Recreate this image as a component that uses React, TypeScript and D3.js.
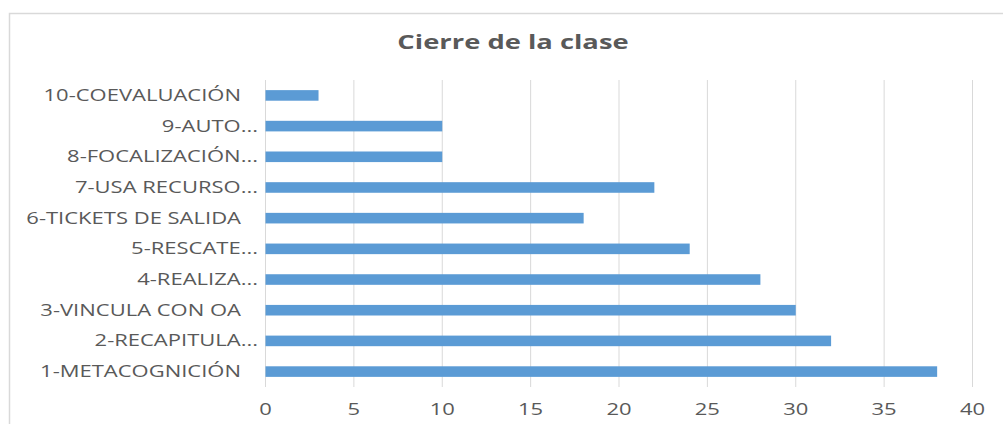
import React from 'react';
import * as d3 from 'd3';

const categories = [
  '10-COEVALUACIÓN',
  '9-AUTO...',
  '8-FOCALIZACIÓN...',
  '7-USA RECURSO...',
  '6-TICKETS DE SALIDA',
  '5-RESCATE...',
  '4-REALIZA...',
  '3-VINCULA CON OA',
  '2-RECAPITULA...',
  '1-METACOGNICIÓN',
];
const values = [3, 10, 10, 22, 18, 24, 28, 30, 32, 38];
const xTicks = [0, 5, 10, 15, 20, 25, 30, 35, 40];

const width = 1003;
const height = 424;
const plotTop = 80;
const plotBottom = 387;
const plotLeft = 265.5;
const plotRight = 972.5;
const font = "'Open Sans', sans-serif";
// the reference is stretched sideways, so text is widened to match
const sx = 1.42;

const App = () => {
  const x = d3.scaleLinear().domain([0, 40]).range([plotLeft, plotRight]);
  const y = d3.scaleBand().domain(categories).range([plotTop, plotBottom]).paddingInner(0.655).paddingOuter(0.33);

  // truncated labels sit closer to the axis than the full ones
  const labelX = (c: string) => (c.endsWith('...') ? 258 : 241);

  return (
    <svg width={width} height={height} style={{ position: 'absolute', left: 0, top: 0 }}>
      <rect x={0} y={0} width={width} height={height} fill="#fff" />
      <rect x={9.5} y={13.5} width={1000} height={420} fill="#fff" stroke="#d9d9d9" strokeWidth={1.5} />
      <text transform={`translate(513,49) scale(1.44,1)`} textAnchor="middle" fontFamily={font} fontWeight="bold" fontSize={19} fill="#595959">
        Cierre de la clase
      </text>
      {xTicks.map(t => (
        <g key={t}>
          <line x1={x(t)} x2={x(t)} y1={plotTop} y2={plotBottom} stroke="#d9d9d9" strokeWidth={1} />
          <text transform={`translate(${x(t)},415) scale(${sx},1)`} textAnchor="middle" fontFamily={font} fontSize={15.5} fill="#595959">
            {t}
          </text>
        </g>
      ))}
      {categories.map((c, i) => (
        <g key={c}>
          <rect x={x(0)} y={y(c)} width={x(values[i]) - x(0)} height={y.bandwidth()} fill="#5b9bd5" />
          <text transform={`translate(${labelX(c)},${(y(c) as number) + y.bandwidth() / 2}) scale(${sx},1)`} dy="0.35em" textAnchor="end" fontFamily={font} fontSize={15.5} fill="#595959">
            {c}
          </text>
        </g>
      ))}
    </svg>
  );
};

export default App;
